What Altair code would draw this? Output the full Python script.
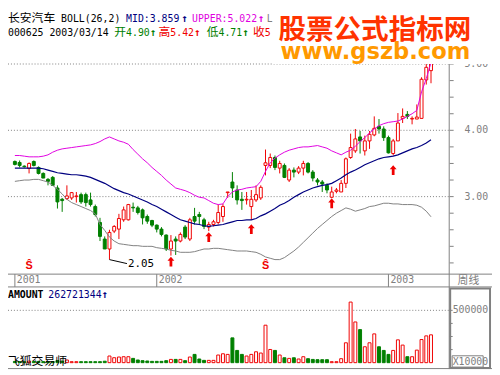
import altair as alt
import pandas as pd

# ---------------- data ----------------
week_index = list(range(89))
open_ = [3.53, 3.515, 3.46, 3.425, 3.53, 3.44, 3.35, 3.26, 3.29, 3.13,
         2.96, 2.97, 2.98, 3.00, 3.03, 3.03, 2.95, 2.85, 2.61, 2.36,
         2.21, 2.48, 2.51, 2.65, 2.65, 2.84, 2.83, 2.80, 2.70, 2.64,
         2.57, 2.51, 2.42, 2.21, 2.36, 2.33, 2.54, 2.36, 2.70, 2.73,
         2.65, 2.54, 2.58, 2.61, 2.70, 3.06, 3.22, 3.10, 2.96, 2.95,
         2.85, 2.95, 2.98, 3.47, 3.47, 3.59, 3.43, 3.47, 3.25, 3.40,
         3.37, 3.43, 3.50, 3.37, 3.25, 3.22, 3.17, 2.99, 3.08, 3.07,
         3.20, 3.59, 3.69, 3.90, 3.69, 3.84, 3.93, 4.06, 4.02, 3.89,
         3.65, 3.84, 4.18, 4.24, 4.17, 4.17, 4.18, 4.76, 4.90]
high = [3.545, 3.545, 3.47, 3.515, 3.545, 3.455, 3.365, 3.28, 3.31, 3.17,
        2.98, 3.17, 3.07, 3.07, 3.06, 3.06, 3.06, 2.88, 2.68, 2.40,
        2.50, 2.57, 2.74, 2.85, 2.89, 2.91, 2.86, 2.82, 2.73, 2.65,
        2.58, 2.54, 2.43, 2.42, 2.40, 2.46, 2.57, 2.68, 2.83, 2.77,
        2.68, 2.62, 2.65, 2.88, 2.89, 3.07, 3.37, 3.17, 3.07, 3.07,
        3.10, 3.17, 3.17, 3.71, 3.65, 3.62, 3.54, 3.50, 3.43, 3.44,
        3.46, 3.54, 3.52, 3.40, 3.28, 3.25, 3.20, 3.15, 3.13, 3.25,
        3.59, 3.95, 4.02, 3.99, 3.92, 3.99, 4.21, 4.17, 4.06, 3.92,
        3.87, 4.26, 4.33, 4.29, 4.21, 4.39, 4.80, 5.00, 5.42]
low = [3.47, 3.44, 3.44, 3.35, 3.455, 3.335, 3.28, 3.17, 3.16, 2.82,
       2.77, 2.95, 2.95, 2.91, 2.89, 2.85, 2.85, 2.70, 2.33, 2.21,
       2.05, 2.45, 2.36, 2.62, 2.64, 2.77, 2.73, 2.58, 2.59, 2.54,
       2.46, 2.40, 2.18, 2.11, 2.12, 2.31, 2.36, 2.33, 2.58, 2.58,
       2.51, 2.48, 2.55, 2.58, 2.62, 2.98, 2.98, 2.88, 2.80, 2.88,
       2.65, 2.92, 2.95, 3.32, 3.43, 3.40, 3.35, 3.28, 3.22, 3.29,
       3.34, 3.32, 3.35, 3.23, 3.17, 3.07, 3.05, 2.98, 3.05, 3.07,
       3.13, 3.57, 3.66, 3.65, 3.62, 3.72, 3.91, 3.95, 3.84, 3.65,
       3.62, 3.84, 4.11, 4.17, 4.09, 4.17, 4.18, 4.69, 4.71]
close = [3.485, 3.47, 3.45, 3.50, 3.47, 3.35, 3.28, 3.23, 3.17, 2.92,
         2.94, 3.01, 3.06, 3.01, 2.92, 2.91, 2.88, 2.73, 2.40, 2.21,
         2.46, 2.55, 2.67, 2.80, 2.88, 2.83, 2.76, 2.68, 2.63, 2.57,
         2.51, 2.43, 2.21, 2.33, 2.33, 2.43, 2.39, 2.65, 2.63, 2.70,
         2.55, 2.58, 2.62, 2.76, 2.85, 3.07, 3.13, 2.95, 2.94, 2.96,
         2.96, 3.03, 3.14, 3.51, 3.59, 3.44, 3.50, 3.29, 3.40, 3.37,
         3.43, 3.50, 3.37, 3.28, 3.22, 3.19, 3.10, 3.07, 3.10, 3.20,
         3.57, 3.74, 3.87, 3.84, 3.84, 3.94, 4.03, 4.02, 3.89, 3.66,
         3.84, 4.11, 4.21, 4.21, 4.18, 4.20, 4.77, 4.95, 5.30]
boll_upper = [3.62, 3.62, 3.61, 3.60, 3.60, 3.60, 3.61, 3.63, 3.67, 3.70,
              3.72, 3.73, 3.74, 3.75, 3.76, 3.77, 3.78, 3.80, 3.83, 3.87,
              3.90, 3.87, 3.84, 3.82, 3.79, 3.71, 3.64, 3.57, 3.51, 3.44,
              3.38, 3.32, 3.25, 3.19, 3.13, 3.11, 3.09, 3.06, 3.02, 2.99,
              2.98, 2.94, 2.90, 2.88, 2.89, 3.00, 3.07, 3.10, 3.11, 3.13,
              3.14, 3.15, 3.23, 3.38, 3.51, 3.58, 3.63, 3.67, 3.70, 3.72,
              3.74, 3.75, 3.75, 3.76, 3.77, 3.75, 3.73, 3.69, 3.66, 3.63,
              3.67, 3.70, 3.76, 3.83, 3.89, 3.96, 4.02, 4.07, 4.10, 4.12,
              4.13, 4.14, 4.17, 4.21, 4.25, 4.30, 4.58, 4.78, 5.022]
boll_mid = [3.43, 3.43, 3.43, 3.43, 3.43, 3.43, 3.42, 3.40, 3.38, 3.36,
            3.35, 3.34, 3.33, 3.33, 3.32, 3.31, 3.29, 3.26, 3.23, 3.20,
            3.16, 3.12, 3.09, 3.06, 3.04, 3.01, 2.98, 2.95, 2.92, 2.88,
            2.85, 2.81, 2.77, 2.73, 2.69, 2.65, 2.63, 2.61, 2.59, 2.58,
            2.56, 2.55, 2.56, 2.57, 2.58, 2.60, 2.62, 2.64, 2.64, 2.65,
            2.65, 2.67, 2.71, 2.74, 2.78, 2.82, 2.87, 2.90, 2.94, 2.99,
            3.03, 3.07, 3.10, 3.13, 3.15, 3.17, 3.18, 3.20, 3.24, 3.28,
            3.33, 3.37, 3.40, 3.44, 3.48, 3.51, 3.54, 3.57, 3.59, 3.60,
            3.61, 3.63, 3.66, 3.69, 3.72, 3.74, 3.77, 3.81, 3.859]
boll_lower = [3.23, 3.24, 3.25, 3.25, 3.26, 3.26, 3.24, 3.22, 3.17, 3.11,
              3.04, 2.96, 2.91, 2.88, 2.85, 2.82, 2.79, 2.74, 2.58, 2.49,
              2.39, 2.33, 2.29, 2.28, 2.27, 2.26, 2.26, 2.25, 2.25, 2.25,
              2.23, 2.22, 2.21, 2.19, 2.18, 2.16, 2.16, 2.16, 2.17, 2.19,
              2.21, 2.21, 2.22, 2.22, 2.21, 2.20, 2.19, 2.18, 2.18, 2.18,
              2.17, 2.16, 2.13, 2.09, 2.07, 2.05, 2.05, 2.08, 2.13, 2.18,
              2.24, 2.31, 2.38, 2.45, 2.52, 2.58, 2.64, 2.70, 2.75, 2.79,
              2.83, 2.81, 2.78, 2.80, 2.82, 2.85, 2.86, 2.88, 2.90, 2.90,
              2.89, 2.89, 2.88, 2.88, 2.88, 2.87, 2.84, 2.78, 2.696]
amount = [12000, 10000, 9000, 15000, 11000, 12000, 10000, 9000, 11000, 20000,
          15000, 25600, 9500, 9500, 9500, 9500, 9500, 9500, 9500, 14000,
          63500, 47400, 54000, 57000, 57000, 41000, 25600, 19000, 16000, 12500,
          12500, 12500, 19000, 31300, 31300, 31300, 19000, 54000, 79000, 35000,
          22000, 22000, 22000, 73000, 85000, 79000, 237000, 117000, 79000, 63500,
          79000, 104000, 92000, 358000, 126000, 117000, 73000, 47000, 41000, 47000,
          35000, 57000, 38000, 31000, 28500, 28500, 28500, 9500, 9500, 38000,
          190000, 579000, 389000, 316000, 152000, 190000, 275000, 152000, 117000, 79000,
          117000, 218000, 168000, 57000, 57000, 120000, 221000, 256000, 266000]
year_labels = ["2001", "2002", "2003"]
year_start_index = [0, 30, 79]
buy_index = [33, 41, 50, 67, 80]
buy_price = [2.02, 2.39, 2.51, 2.90, 3.40]
sell_index = [3, 53]
sell_price = [1.96, 1.96]
price_grid = [3.0, 4.0, 5.0]
price_labels = ["3.00", "4.00", "5.00"]
price_minor = [2.0, 2.25, 2.5, 2.75, 3.0, 3.25, 3.5, 3.75, 4.0, 4.25, 4.5, 4.75, 5.0, 5.25]
amount_grid = [500000]
amount_labels = ["500000"]
amount_minor = [125000, 250000, 375000, 500000]
low_mark_index = [20, 23.7]
low_mark_price = [2.05, 1.99]
low_mark_text = "2.05"

# ---------------- styles ----------------
RED = "#f00000"
GREEN = "#008000"
NAVY = "#000080"
MAG = "#e000e0"
GRAY = "#808080"
MONO = "DejaVu Sans Mono"
CJK = "Noto Sans CJK SC"

df = pd.DataFrame({"i": week_index, "o": open_, "h": high, "l": low, "c": close,
                   "up": boll_upper, "mid": boll_mid, "lo": boll_lower, "amt": amount})
df["dir"] = ["up" if c >= o else "down" for o, c in zip(open_, close)]
one = pd.DataFrame({"k": [0]})

xs = alt.Scale(domain=[0, 88], range=[2, 435], nice=False, zero=False)
ps = alt.Scale(domain=[3, 5], range=[188.7, 53.9], nice=False, zero=False)
vs = alt.Scale(domain=[0, 500000], range=[357.5, 304.3], nice=False, zero=False)
X = alt.X("i:Q", scale=xs, axis=None)


def P(field):
    return alt.Y(field, scale=ps, axis=None)


def V(field):
    return alt.Y(field, scale=vs, axis=None)


def label(text, x, y, color="#000000", size=10, font=MONO, weight="normal", align="left"):
    return alt.Chart(one).mark_text(align=align, baseline="alphabetic", color=color, fontSize=size,
                                    font=font, fontWeight=weight).encode(
        x=alt.value(x - 8), y=alt.value(y - 8), text=alt.value(text))


def hline(y, x1, x2, color=GRAY, width=1):
    return alt.Chart(one).mark_rule(color=color, strokeWidth=width).encode(
        x=alt.value(x1 - 8), x2=alt.value(x2 - 8), y=alt.value(y - 8))


def vline(x, y1, y2, color=GRAY, width=1):
    return alt.Chart(one).mark_rule(color=color, strokeWidth=width).encode(
        x=alt.value(x - 8), y=alt.value(y1 - 8), y2=alt.value(y2 - 8))


layers = []

# grid lines
gdf = pd.DataFrame({"p": price_grid, "t": price_labels})
layers.append(alt.Chart(gdf).mark_rule(color=GRAY, strokeWidth=1, strokeDash=[1, 2]).encode(
    y=P("p:Q"), x=alt.value(0), x2=alt.value(448)))
vgdf = pd.DataFrame({"v": amount_grid, "t": amount_labels})
layers.append(alt.Chart(vgdf).mark_rule(color=GRAY, strokeWidth=1, strokeDash=[1, 2]).encode(
    y=V("v:Q"), x=alt.value(0), x2=alt.value(448)))

# frame
layers += [
    hline(275.5, 8, 500), hline(288.5, 8, 500), hline(371.5, 8, 500),
    vline(456.5, 30, 372),
]
# right axis ticks / labels
mdf = pd.DataFrame({"p": price_minor})
layers.append(alt.Chart(mdf).mark_rule(color=GRAY).encode(
    y=P("p:Q"), x=alt.value(449), x2=alt.value(453)))
layers.append(alt.Chart(gdf).mark_text(align="left", baseline="middle", color=GRAY, fontSize=10,
                                       font=MONO).encode(y=P("p:Q"), x=alt.value(464), text="t:N"))
vmdf = pd.DataFrame({"v": amount_minor})
layers.append(alt.Chart(vmdf).mark_rule(color=GRAY).encode(
    y=V("v:Q"), x=alt.value(449), x2=alt.value(452)))
layers.append(alt.Chart(vgdf).mark_text(align="left", baseline="middle", color=GRAY, fontSize=10,
                                        font=MONO).encode(y=V("v:Q"), x=alt.value(452), text="t:N"))

# year strip
ydf = pd.DataFrame({"i": year_start_index, "t": year_labels})
layers.append(alt.Chart(ydf).mark_rule(color=GRAY).encode(
    x=X, y=alt.value(275.5 - 8), y2=alt.value(288.5 - 8)))
layers.append(alt.Chart(ydf).mark_text(align="left", baseline="middle", color=GRAY, fontSize=10,
                                       font=MONO, dx=2).encode(x=X, y=alt.value(282 - 8), text="t:N"))
layers.append(label("周线", 465, 286, color=GRAY, size=11, font=CJK))

# candles
for d, col in (("up", RED), ("down", GREEN)):
    sub = alt.Chart(df).transform_filter(alt.datum.dir == d)
    layers.append(sub.mark_rule(color=col, strokeWidth=1).encode(x=X, y=P("l:Q"), y2="h:Q"))
for d, fill, col in (("up", "white", RED), ("down", GREEN, GREEN)):
    sub = alt.Chart(df).transform_filter(alt.datum.dir == d)
    layers.append(sub.mark_bar(size=3, fill=fill, stroke=col, strokeWidth=1).encode(
        x=X, y=P("o:Q"), y2="c:Q"))

# Bollinger bands
layers.append(alt.Chart(df).mark_line(color=MAG, strokeWidth=1).encode(x=X, y=P("up:Q")))
layers.append(alt.Chart(df).mark_line(color=NAVY, strokeWidth=1.2).encode(x=X, y=P("mid:Q")))
layers.append(alt.Chart(df).mark_line(color=GRAY, strokeWidth=1).encode(x=X, y=P("lo:Q")))

# volume bars
for d, fill, col in (("up", "white", RED), ("down", GREEN, GREEN)):
    sub = alt.Chart(df).transform_filter(alt.datum.dir == d)
    layers.append(sub.mark_bar(size=3, fill=fill, stroke=col, strokeWidth=1).encode(
        x=X, y=V("amt:Q")))

# signals
arrow = "M0,-1L0.7,-0.15L0.28,-0.15L0.28,1L-0.28,1L-0.28,-0.15L-0.7,-0.15Z"
bdf = pd.DataFrame({"i": buy_index, "p": buy_price})
layers.append(alt.Chart(bdf).mark_point(shape=arrow, size=100, filled=True, color=RED, opacity=1,
                                        strokeWidth=0).encode(x=X, y=P("p:Q")))
sdf = pd.DataFrame({"i": sell_index, "p": sell_price})
layers.append(alt.Chart(sdf).mark_text(color=RED, fontSize=11, fontWeight="bold",
                                       font="Liberation Sans", baseline="middle").encode(
    x=X, y=P("p:Q"), text=alt.value("Ŝ")))

# lowest price annotation
ldf = pd.DataFrame({"i": low_mark_index, "p": low_mark_price})
layers.append(alt.Chart(ldf).mark_line(color="black", strokeWidth=1).encode(x=X, y=P("p:Q")))
layers.append(alt.Chart(ldf.tail(1)).mark_text(align="left", baseline="middle", fontSize=11,
                                               font=MONO, dx=1).encode(
    x=X, y=P("p:Q"), text=alt.value(low_mark_text)))

# header texts (the parts hidden by the watermark in the reference are left out)
ARW = dict(size=11, font=MONO, weight="bold")
layers += [
    label("长安汽车", 8, 19, size=12, font=CJK),
    label("BOLL(26,2)", 62, 19),
    label("MID:3.859", 128, 19, color=NAVY),
    label("↑", 184, 19, color=NAVY, **ARW),
    label("UPPER:5.022", 195, 19, color=MAG),
    label("↑", 262, 19, color=MAG, **ARW),
    label("L", 271, 19, color=GRAY),
    label("000625 2003/03/14", 8, 33),
    label("开", 116, 33, color=GREEN, size=12, font=CJK),
    label("4.90", 128, 33, color=GREEN),
    label("↑", 152, 33, color=GREEN, **ARW),
    label("高", 161, 33, color=RED, size=12, font=CJK),
    label("5.42", 173, 33, color=RED),
    label("↑", 197, 33, color=RED, **ARW),
    label("低", 210, 33, color=GREEN, size=12, font=CJK),
    label("4.71", 222, 33, color=GREEN),
    label("↑", 246, 33, color=GREEN, **ARW),
    label("收", 257, 33, color=RED, size=12, font=CJK),
    label("5", 269, 33, color=RED),
    label("AMOUNT", 8, 300, weight="bold"),
    label("262721344", 49, 300, color=NAVY),
    label("↑", 103, 300, color=NAVY, **ARW),
    label("飞狐交易师", 8, 368, size=12, font=CJK),
]

# right-column box in volume panel
layers.append(alt.Chart(one).mark_rect(fill=None, stroke=GRAY, strokeWidth=2).encode(
    x=alt.value(457.5 - 8), x2=alt.value(498 - 8), y=alt.value(290 - 8), y2=alt.value(371 - 8)))
layers.append(alt.Chart(one).mark_rect(fill="white", stroke=GRAY, strokeWidth=1).encode(
    x=alt.value(459.5 - 8), x2=alt.value(491 - 8), y=alt.value(358.5 - 8), y2=alt.value(370 - 8)))
layers.append(label("X10000", 460, 368, color=GRAY))

# watermark
layers.append(alt.Chart(one).mark_rect(fill="white").encode(
    x=alt.value(277 - 8), x2=alt.value(500 - 8), y=alt.value(0), y2=alt.value(62 - 8)))
layers.append(label("股票公式指标网", 283, 36, color="#ff3300", size=28, font=CJK, weight="bold"))
layers.append(label("www.gszb.com", 285, 57, color="#ff9900", size=23, font="DejaVu Sans",
                    weight="bold"))

chart = alt.layer(*layers).resolve_scale(y="independent").properties(
    width=492, height=367, autosize=alt.AutoSizeParams(type="none"), padding=0
).configure_view(stroke=None)

chart.save("out.html", embed_options={"renderer": "svg", "actions": False})
